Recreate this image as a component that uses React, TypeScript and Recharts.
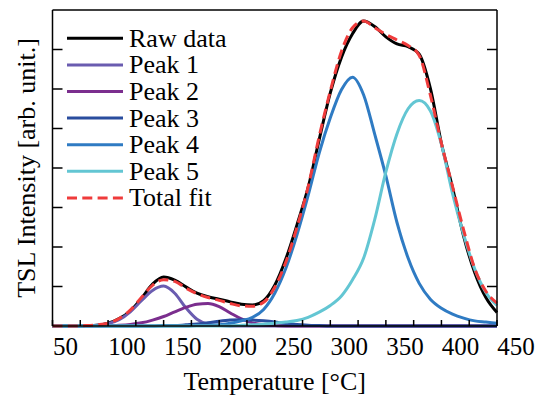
import React from "react";
import { LineChart, Line, XAxis, YAxis, Legend } from "recharts";

// temperature grid [°C]
const temperatures = [
  50, 60, 70, 80, 90, 100, 110, 120, 130, 140, 150, 160, 170, 180, 190, 200, 210, 220, 230, 240, 250,
  260, 270, 280, 290, 300, 310, 320, 330, 340, 350, 360, 370, 380, 390, 400, 410, 420, 430, 440, 450,
];

// TSL intensity, arb. units
const rawData = [
  0, 0, 0, 0.01, 0.02, 0.07, 0.19, 0.38, 0.7, 1.06, 1.24, 1.16, 0.99, 0.83, 0.74, 0.68, 0.61, 0.55, 0.53, 0.64, 1.03,
  1.7, 2.56, 3.5, 4.72, 5.9, 6.8, 7.4, 7.72, 7.58, 7.32, 7.14, 7.07, 6.88, 6.02, 4.62, 3.5, 2.27, 1.35, 0.72, 0.34,
];
const peak1 = [
  0, 0, 0, 0.01, 0.02, 0.06, 0.16, 0.36, 0.64, 0.9, 1.01, 0.83, 0.46, 0.17, 0.045, 0.01, 0, 0, 0, 0, 0,
  0, 0, 0, 0, 0, 0, 0, 0, 0, 0, 0, 0, 0, 0, 0, 0, 0, 0, 0, 0,
];
const peak2 = [
  0, 0, 0, 0, 0, 0.01, 0.02, 0.04, 0.08, 0.15, 0.24, 0.36, 0.47, 0.55, 0.57, 0.49, 0.33, 0.18, 0.08, 0.03, 0.01,
  0, 0, 0, 0, 0, 0, 0, 0, 0, 0, 0, 0, 0, 0, 0, 0, 0, 0, 0, 0,
];
const peak3 = [
  0, 0, 0, 0, 0, 0, 0, 0, 0, 0, 0.01, 0.01, 0.03, 0.05, 0.08, 0.12, 0.15, 0.16, 0.15, 0.13, 0.1,
  0.06, 0.04, 0.02, 0.01, 0, 0, 0, 0, 0, 0, 0, 0, 0, 0, 0, 0, 0, 0, 0, 0,
];
const peak4 = [
  0, 0, 0, 0, 0, 0, 0, 0, 0, 0, 0, 0, 0, 0.01, 0.015, 0.03, 0.07, 0.13, 0.22, 0.42, 0.83,
  1.46, 2.31, 3.3, 4.38, 5.27, 5.98, 6.3, 5.85, 4.85, 3.8, 2.62, 1.72, 1.08, 0.68, 0.45, 0.3, 0.2, 0.13, 0.1, 0.07,
];
const peak5 = [
  0, 0, 0, 0, 0, 0, 0, 0, 0, 0, 0, 0, 0, 0, 0, 0, 0, 0.02, 0.03, 0.045, 0.07,
  0.1, 0.14, 0.22, 0.35, 0.52, 0.76, 1.17, 1.72, 2.7, 3.9, 4.87, 5.5, 5.71, 5.45, 4.6, 3.35, 2.31, 1.44, 0.85, 0.52,
];
const totalFit = [
  0, 0, 0, 0.01, 0.03, 0.07, 0.19, 0.4, 0.72, 1.03, 1.17, 1.13, 0.96, 0.82, 0.72, 0.65, 0.57, 0.51, 0.5, 0.6, 0.98,
  1.62, 2.5, 3.52, 4.8, 5.95, 6.95, 7.55, 7.72, 7.55, 7.38, 7.24, 7.1, 6.85, 5.85, 4.62, 3.53, 2.43, 1.45, 0.88, 0.58,
];

const xTicks = [50, 75, 100, 125, 150, 175, 200, 225, 250, 275, 300, 325, 350, 375, 400, 425, 450];
const xLabels = [50, 100, 150, 200, 250, 300, 350, 400, 450];
const yTicks = [1, 2, 3, 4, 5, 6, 7];

const FONT = '"Liberation Serif", "Times New Roman", Times, "DejaVu Serif", serif';

const series = [
  { key: "raw", name: "Raw data", color: "#000000", values: rawData, dash: undefined },
  { key: "p1", name: "Peak 1", color: "#6a5cb0", values: peak1, dash: undefined },
  { key: "p2", name: "Peak 2", color: "#7b2e8e", values: peak2, dash: undefined },
  { key: "p3", name: "Peak 3", color: "#2a4d9e", values: peak3, dash: undefined },
  { key: "p4", name: "Peak 4", color: "#2f7bc3", values: peak4, dash: undefined },
  { key: "p5", name: "Peak 5", color: "#63c6d3", values: peak5, dash: undefined },
  { key: "total", name: "Total fit", color: "#ef3b3b", values: totalFit, dash: "10 5.3" },
];

const chartData = temperatures.map((t, i) => {
  const row: Record<string, number> = { t };
  series.forEach((s) => {
    row[s.key] = s.values[i];
  });
  return row;
});

const textStyle = { fontFamily: FONT };

// inward tick marks + shifted labels, like the original figure
const BottomTick = (props: any) => {
  const { x, y, payload } = props;
  const v = payload.value;
  const showLabel = xLabels.includes(v);
  return (
    <g>
      <line x1={x} y1={y} x2={x} y2={y - 6} stroke="#000" strokeWidth={1.5} />
      {showLabel && (
        <text x={x + (v === 50 ? 13 : 19)} y={y + 29} textAnchor="middle" fontSize={25} style={textStyle} fill="#000">
          {v}
        </text>
      )}
    </g>
  );
};

const TopTick = (props: any) => (
  <line x1={props.x} y1={props.y} x2={props.x} y2={props.y + 6} stroke="#000" strokeWidth={1.5} />
);

const LeftTick = (props: any) => (
  <line x1={props.x} y1={props.y} x2={props.x + 10} y2={props.y} stroke="#000" strokeWidth={1.5} />
);

const RightTick = (props: any) => (
  <line x1={props.x} y1={props.y} x2={props.x - 10} y2={props.y} stroke="#000" strokeWidth={1.5} />
);

const YTitle = (props: any) => {
  const vb = props.viewBox || { x: 0, y: 10, width: 52.5, height: 316 };
  const cx = vb.x + 34.5;
  const cy = vb.y + vb.height / 2;
  return (
    <text
      x={cx}
      y={cy}
      transform={`rotate(-90, ${cx}, ${cy})`}
      textAnchor="middle"
      fontSize={26}
      style={textStyle}
      fill="#000"
    >
      TSL Intensity [arb. unit.]
    </text>
  );
};

const XTitle = (props: any) => {
  const vb = props.viewBox || { x: 52.5, y: 326, width: 444.5, height: 72 };
  return (
    <text x={vb.x + vb.width / 2} y={vb.y + 64} textAnchor="middle" fontSize={26} style={textStyle} fill="#000">
      Temperature [°C]
    </text>
  );
};

const LegendBox = () => (
  <svg width={260} height={220} style={{ display: "block" }}>
    {series.map((s, i) => {
      const y = 38.3 + i * 26.6;
      return (
        <g key={s.key}>
          <line x1={67} x2={123} y1={y} y2={y} stroke={s.color} strokeWidth={3} strokeDasharray={s.dash} />
          <text x={129} y={y + 8.5} fontSize={26} style={textStyle} fill="#000">
            {s.name}
          </text>
        </g>
      );
    })}
  </svg>
);

export default function App() {
  return (
    <div
      style={{ position: "absolute", left: 0, top: 0, width: 537, height: 398, background: "#fff", fontFamily: FONT }}
    >
      <LineChart width={537} height={398} data={chartData} margin={{ top: 10, right: 40, bottom: 0, left: 0 }}>
        <XAxis
          dataKey="t"
          type="number"
          domain={[50, 450]}
          ticks={xTicks}
          interval={0}
          height={72}
          axisLine={{ stroke: "#000", strokeWidth: 1.5 }}
          tickLine={false}
          tickSize={0}
          tickMargin={0}
          tick={<BottomTick />}
          label={<XTitle />}
        />
        <XAxis
          xAxisId="top"
          orientation="top"
          mirror
          type="number"
          domain={[50, 450]}
          allowDataOverflow
          ticks={xTicks}
          interval={0}
          height={1}
          axisLine={{ stroke: "#000", strokeWidth: 1.5 }}
          tickLine={false}
          tickSize={0}
          tickMargin={0}
          tick={<TopTick />}
        />
        <YAxis
          type="number"
          domain={[0, 8]}
          ticks={yTicks}
          interval={0}
          width={52.5}
          axisLine={{ stroke: "#000", strokeWidth: 1.5 }}
          tickLine={false}
          tickSize={0}
          tickMargin={0}
          tick={<LeftTick />}
          label={<YTitle />}
        />
        <YAxis
          yAxisId="right"
          orientation="right"
          mirror
          type="number"
          domain={[0, 8]}
          allowDataOverflow
          ticks={yTicks}
          interval={0}
          width={1}
          axisLine={{ stroke: "#000", strokeWidth: 1.5 }}
          tickLine={false}
          tickSize={0}
          tickMargin={0}
          tick={<RightTick />}
        />
        {series.map((s) => (
          <Line
            key={s.key}
            dataKey={s.key}
            name={s.name}
            type="monotone"
            stroke={s.color}
            strokeWidth={3}
            strokeDasharray={s.dash}
            dot={false}
            activeDot={false}
            isAnimationActive={false}
          />
        ))}
        <Legend
          layout="vertical"
          align="center"
          verticalAlign="middle"
          wrapperStyle={{ left: 0, top: 0, width: 260, height: 220 }}
          content={() => <LegendBox />}
        />
      </LineChart>
    </div>
  );
}
